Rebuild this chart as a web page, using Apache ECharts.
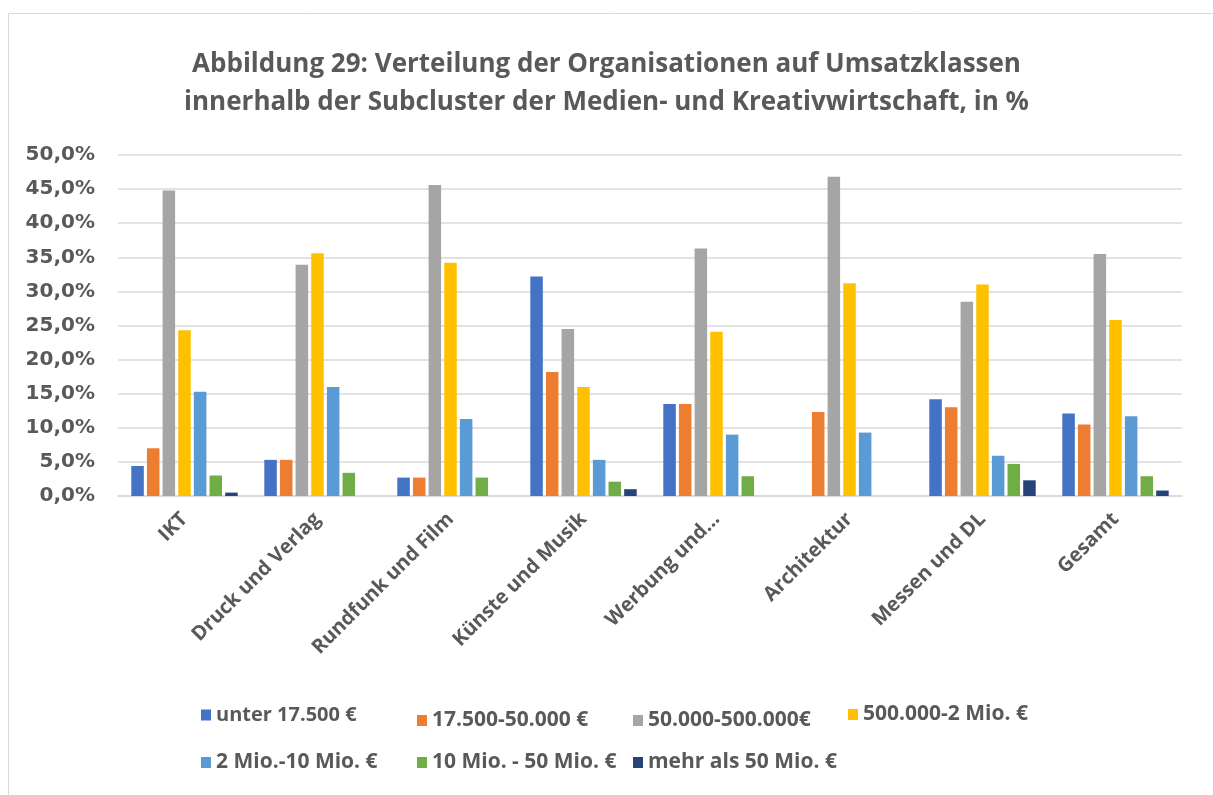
<!DOCTYPE html>
<html>
<head>
<meta charset="utf-8">
<script src="https://cdn.jsdelivr.net/npm/echarts@6/dist/echarts.min.js"></script>
<style>
  html, body { margin: 0; padding: 0; background: #fff; }
  #chart { width: 1213px; height: 795px; }
</style>
</head>
<body>
<div id="chart"></div>
<script>
    // Kategorien (Subcluster)
    const categories = ['IKT', 'Druck und Verlag', 'Rundfunk und Film', 'Künste und Musik',
        'Werbung und...', 'Architektur', 'Messen und DL', 'Gesamt'];

    // Umsatzklassen, Werte in %
    const unter17500 = [4.4, 5.3, 2.7, 32.2, 13.5, 0, 14.2, 12.1];
    const bis50000 = [7.0, 5.3, 2.7, 18.2, 13.5, 12.3, 13.0, 10.5];
    const bis500000 = [44.8, 33.9, 45.6, 24.5, 36.3, 46.8, 28.5, 35.5];
    const bis2Mio = [24.3, 35.6, 34.2, 16.0, 24.1, 31.2, 31.0, 25.8];
    const bis10Mio = [15.3, 16.0, 11.3, 5.3, 9.0, 9.3, 5.9, 11.7];
    const bis50Mio = [3.0, 3.4, 2.7, 2.1, 2.9, 0, 4.7, 2.9];
    const ueber50Mio = [0.5, 0, 0, 1.0, 0, 0, 2.3, 0.8];

    const seriesNames = ['unter 17.500 €', '17.500-50.000 €', '50.000-500.000€', '500.000-2 Mio. €',
        '2 Mio.-10 Mio. €', '10 Mio. - 50 Mio. €', 'mehr als 50 Mio. €'];
    const seriesData = [unter17500, bis50000, bis500000, bis2Mio, bis10Mio, bis50Mio, ueber50Mio];
    const colors = ['#4472C4', '#ED7D31', '#A5A5A5', '#FFC000', '#5B9BD5', '#70AD47', '#264478'];

    const textGray = '#595959';
    const font = '"Open Sans", sans-serif';

    // Legendenpositionen (zwei Zeilen, Spalten wie im Original)
    const legendPos = [[196, 700], [412, 705], [628, 705], [843, 699],
        [196, 747], [412, 747], [628, 747]];

    let chart = echarts.init(document.getElementById('chart'));

    let option = {
        backgroundColor: '#fff',
        color: colors,
        title: {
            text: 'Abbildung 29: Verteilung der Organisationen auf Umsatzklassen\ninnerhalb der Subcluster der Medien- und Kreativwirtschaft, in %',
            left: 'center',
            top: 41,
            textStyle: {
                fontFamily: font,
                fontWeight: 'bold',
                fontSize: 26,
                lineHeight: 38,
                color: textGray
            }
        },
        legend: seriesNames.map((name, i) => ({
            data: [name],
            left: legendPos[i][0],
            top: legendPos[i][1],
            itemWidth: 10,
            itemHeight: 11,
            itemGap: 0,
            selectedMode: false,
            icon: 'rect',
            textStyle: {
                fontFamily: font,
                fontWeight: 'bold',
                fontSize: i === 0 ? 20 : 21,
                color: textGray
            }
        })),
        grid: {
            left: 118,
            right: 31,
            top: 155,
            bottom: 299
        },
        xAxis: {
            type: 'category',
            data: categories,
            axisLine: { lineStyle: { color: '#D9D9D9', width: 1.5 } },
            axisTick: { show: false },
            axisLabel: {
                rotate: 45,
                interval: 0,
                margin: 20,
                fontFamily: font,
                fontWeight: 'bold',
                fontSize: 20,
                color: textGray
            }
        },
        yAxis: {
            type: 'value',
            min: 0,
            max: 50,
            interval: 5,
            axisLine: { show: false },
            axisTick: { show: false },
            splitLine: { lineStyle: { color: '#D9D9D9', width: 1.5 } },
            axisLabel: {
                margin: 23,
                fontFamily: '"DejaVu Sans", sans-serif',
                fontWeight: 'bold',
                fontSize: 20,
                color: textGray,
                formatter: v => v.toFixed(1).replace('.', ',') + '%'
            }
        },
        series: seriesNames.map((name, i) => ({
            name: name,
            type: 'bar',
            data: seriesData[i],
            barGap: '25%',
            barCategoryGap: '20%',
            itemStyle: { color: colors[i] }
        })),
        graphic: [{
            type: 'rect',
            shape: { x: 8.5, y: 13.5, width: 1230, height: 800 },
            style: { fill: 'none', stroke: '#D9D9D9', lineWidth: 1 },
            silent: true
        }]
    };

    chart.setOption(option);
    window.addEventListener('resize', () => chart.resize());
</script>
</body>
</html>
